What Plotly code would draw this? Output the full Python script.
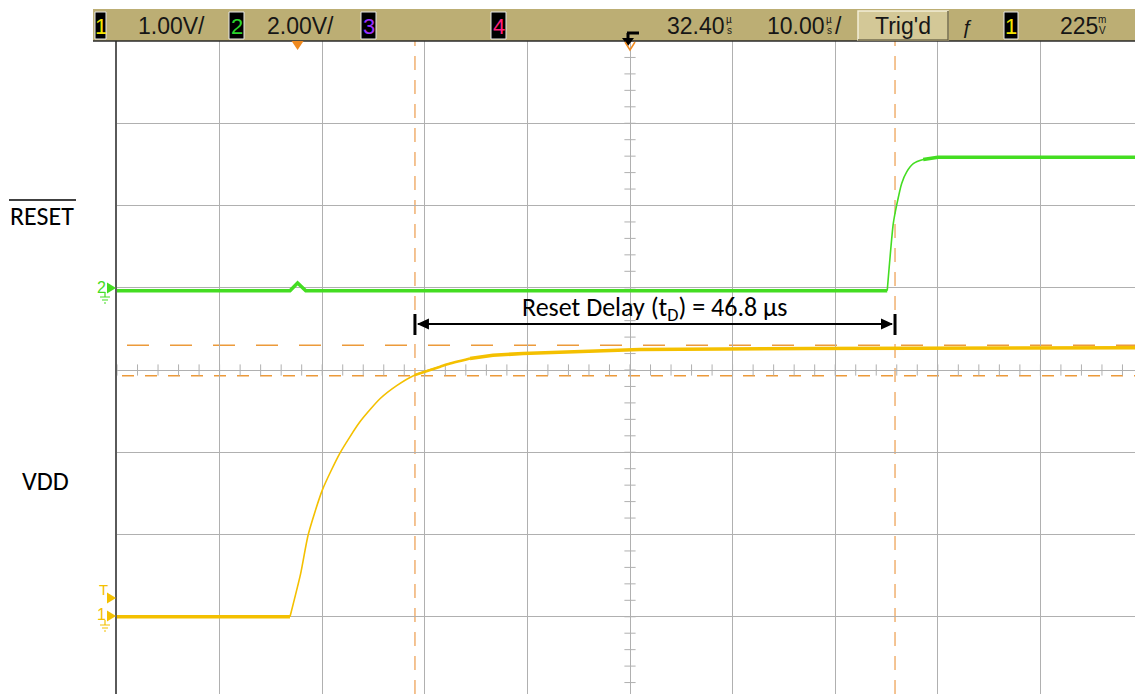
import plotly.graph_objects as go

# ---------------- data ----------------
# Time in microseconds (t = 0 at trigger), voltages in volts
vdd_t = [-17.6, -0.74, 0.30, 1.04, 2.41, 4.13, 6.08, 8.03, 9.66, 11.44, 13.9, 14.6,
         16.8, 19.04, 21.97, 26.84, 33.37, 50.0, 81.7]
vdd_v = [0.0, 0.0, 0.525, 1.00, 1.54, 1.99, 2.37, 2.65, 2.81, 2.94, 3.04, 3.07,
         3.14, 3.18, 3.20, 3.22, 3.25, 3.26, 3.27]

reset_t = [-17.6, -0.74, 0.0, 0.8, 57.47, 58.06, 58.39, 58.88, 59.37, 60.01, 60.98, 62.41, 81.7]
reset_v = [0.0, 0.0, 0.19, 0.0, 0.0, 1.63, 2.08, 2.61, 2.89, 3.09, 3.19, 3.246, 3.246]

cursor_t = [11.44, 58.23]          # vertical (time) cursors, us
cursor_v = [3.30, 2.93]            # horizontal (ch1) cursors, V

ch1_scale, ch1_center = 1.0, 3.0   # V/div, V at screen centre
ch2_scale, ch2_center = 2.0, -1.927
timebase, delay = 10.0, 32.4       # us/div, us at screen centre

bar_labels = ["1.00V/", "2.00V/", "32.40", "10.00", "Trig'd", "225"]
chan_labels = ["1", "2", "3", "4"]
trace_labels = ["RESET", "VDD"]
delay_label = "Reset Delay (t<sub>D</sub>) = 46.8 µs"

# ---------------- geometry ----------------
W, H = 1135, 694
L, T = 117, 41
PW, PH = W - L, H - T
DIVX, DIVY = 102.6, 82.25          # px per division

def px(x):
    return (x - L) / PW

def py(y):
    return (H - y) / PH

x0 = delay - 5 * timebase
x1 = x0 + PW / DIVX * timebase
y1_top = ch1_center + 4 * ch1_scale
y1_bot = y1_top - PH / DIVY * ch1_scale
y2_top = ch2_center + 4 * ch2_scale
y2_bot = y2_top - PH / DIVY * ch2_scale

GREEN = "#44dd22"
YELLOW = "#f4c000"
ORANGE = "#ec9a3a"
GRID = "#b0b0b0"
KHAKI = "#bcae74"
NARROW = "Liberation Sans, Arial, sans-serif"
CAL = "Carlito, Calibri, Lato, sans-serif"

fig = go.Figure()

# minor ticks on the centre graticule lines
nx = int(round((x1 - x0) / (timebase / 5))) + 1
fig.add_trace(go.Scatter(
    x=[x0 + k * timebase / 5 for k in range(nx)], y=[ch1_center] * nx,
    mode="markers", marker=dict(symbol="line-ns", size=8, line=dict(width=1, color=GRID)),
    hoverinfo="skip", showlegend=False))
ny = 41
fig.add_trace(go.Scatter(
    x=[delay] * ny, y=[-1.0 + k * ch1_scale / 5 for k in range(ny)],
    mode="markers", marker=dict(symbol="line-ew", size=8, line=dict(width=1, color=GRID)),
    hoverinfo="skip", showlegend=False))

def seg(tt, vv, a, b, width, color, axis, shape="linear"):
    fig.add_trace(go.Scatter(x=tt[a:b], y=vv[a:b], mode="lines", yaxis=axis,
                             line=dict(color=color, width=width, shape=shape, smoothing=0.6),
                             hoverinfo="skip", showlegend=False))

# VDD (channel 1)
seg(vdd_t, vdd_v, 0, 2, 3.5, YELLOW, "y")
seg(vdd_t, vdd_v, 1, 11, 1.6, YELLOW, "y", "spline")
seg(vdd_t, vdd_v, 9, 13, 2.6, YELLOW, "y", "spline")
seg(vdd_t, vdd_v, 12, len(vdd_t), 3.5, YELLOW, "y")

# RESET (channel 2)
seg(reset_t, reset_v, 0, 5, 3.5, GREEN, "y2")
seg(reset_t, reset_v, 4, 12, 1.6, GREEN, "y2", "spline")
seg(reset_t, reset_v, 10, len(reset_t), 3.5, GREEN, "y2")

shapes = []
# cursors
for t in cursor_t:
    shapes.append(dict(type="line", xref="x", yref="paper", x0=t, x1=t, y0=0, y1=1,
                       line=dict(color="#f0b070", width=1.5, dash="14px,10px"), layer="between"))
shapes.append(dict(type="line", xref="paper", yref="y", x0=px(127), x1=1, y0=cursor_v[0], y1=cursor_v[0],
                   line=dict(color=ORANGE, width=1.5, dash="22px,21px"), layer="between"))
shapes.append(dict(type="line", xref="paper", yref="y", x0=px(122), x1=1, y0=cursor_v[1], y1=cursor_v[1],
                   line=dict(color=ORANGE, width=1.5, dash="12px,11px"), layer="between"))

# delay arrow
ay = py(324)
dt = timebase / DIVX  # us per pixel
ta, tb = cursor_t
shapes.append(dict(type="line", xref="x", yref="paper", x0=ta + 3 * dt, x1=tb - 3 * dt, y0=ay, y1=ay,
                   line=dict(color="black", width=2)))
for t in cursor_t:
    shapes.append(dict(type="line", xref="x", yref="paper", x0=t, x1=t, y0=py(314), y1=py(335),
                       line=dict(color="black", width=3)))
shapes.append(dict(type="path", xref="x", yref="paper",
                   path=f"M{ta + 2 * dt},{ay} L{ta + 14 * dt},{py(318.5)} L{ta + 14 * dt},{py(329.5)} Z",
                   fillcolor="black", line=dict(width=0)))
shapes.append(dict(type="path", xref="x", yref="paper",
                   path=f"M{tb - 2 * dt},{ay} L{tb - 14 * dt},{py(318.5)} L{tb - 14 * dt},{py(329.5)} Z",
                   fillcolor="black", line=dict(width=0)))

# top status bar
shapes.append(dict(type="rect", xref="paper", yref="paper", x0=px(93), x1=1.0, y0=py(41), y1=py(9),
                   fillcolor=KHAKI, line=dict(width=0), layer="above"))
shapes.append(dict(type="line", xref="paper", yref="paper", x0=px(93), x1=1.0, y0=py(41), y1=py(41),
                   line=dict(color="#2a2a2a", width=1.5), layer="above"))
box_pos = [(95, 106), (229, 244), (361, 376), (491, 506), (1004, 1018)]
for (a, b) in box_pos:
    shapes.append(dict(type="rect", xref="paper", yref="paper", x0=px(a), x1=px(b), y0=py(39), y1=py(12),
                       fillcolor="black", line=dict(color="#e8e8e8", width=1), layer="above"))
# Trig'd box
shapes.append(dict(type="rect", xref="paper", yref="paper", x0=px(858), x1=px(948), y0=py(40), y1=py(11),
                   fillcolor="#d3c897", line=dict(color="#f4eed8", width=1.5), layer="above"))
shapes.append(dict(type="path", xref="paper", yref="paper",
                   path=f"M{px(858)},{py(40)} L{px(948)},{py(40)} L{px(948)},{py(11)}",
                   line=dict(color="#6e6440", width=1.5), layer="above"))
# trigger icon
shapes.append(dict(type="path", xref="paper", yref="paper",
                   path=f"M{px(627)},{py(33)} L{px(639)},{py(33)} M{px(628)},{py(33)} L{px(628)},{py(40)}",
                   line=dict(color="black", width=3), layer="above"))
shapes.append(dict(type="path", xref="paper", yref="paper",
                   path=f"M{px(622)},{py(38)} L{px(634)},{py(38)} L{px(628)},{py(46)} Z",
                   fillcolor="black", line=dict(width=0), layer="above"))
# trigger / delay markers
shapes.append(dict(type="path", xref="x", yref="paper",
                   path=f"M{0 - 6 * dt},{py(41)} L{0 + 6 * dt},{py(41)} L0,{py(50)} Z",
                   fillcolor="#f08a20", line=dict(width=0), layer="above"))
shapes.append(dict(type="path", xref="x", yref="paper",
                   path=f"M{delay - 5 * dt},{py(42)} L{delay},{py(50)} L{delay + 5 * dt},{py(42)}",
                   line=dict(color="#f08a20", width=1.5), layer="above"))

# channel reference markers at left edge
def tri(yc, color):
    shapes.append(dict(type="path", xref="paper", yref="paper",
                       path=f"M{px(107)},{py(yc - 5.5)} L{px(116)},{py(yc)} L{px(107)},{py(yc + 5.5)} Z",
                       fillcolor=color, line=dict(width=0)))

def gnd(yc, color):
    shapes.append(dict(type="path", xref="paper", yref="paper",
                       path=(f"M{px(105)},{py(yc + 4)} L{px(105)},{py(yc + 9)} "
                             f"M{px(100)},{py(yc + 9)} L{px(110)},{py(yc + 9)} "
                             f"M{px(102)},{py(yc + 12)} L{px(108)},{py(yc + 12)} "
                             f"M{px(104)},{py(yc + 15)} L{px(106)},{py(yc + 15)}"),
                       line=dict(color=color, width=1.2)))

tri(288, GREEN); gnd(288, GREEN)
tri(598, YELLOW)
tri(616, YELLOW); gnd(616, YELLOW)

# overline for RESET
shapes.append(dict(type="line", xref="paper", yref="paper", x0=px(9), x1=px(76), y0=py(200), y1=py(200),
                   line=dict(color="black", width=1.5)))

ann = []
def txt(x, y, s, size, color="#161616", family=NARROW, anchor="left"):
    ann.append(dict(xref="paper", yref="paper", x=px(x), y=py(y), text=s, showarrow=False,
                    xanchor=anchor, yanchor="middle", font=dict(family=family, size=size, color=color),
                    borderpad=0))

txt(137, 26, bar_labels[0], 23)
txt(266, 26, bar_labels[1], 23)
txt(666, 26, bar_labels[2], 23)
txt(766, 26, bar_labels[3], 23)
txt(903, 26, bar_labels[4], 23, anchor="center")
txt(1059, 26, bar_labels[5], 23)
# stacked unit glyphs
for xs, top, bot in [(729, "µ", "s"), (829, "µ", "s"), (1102, "m", "V")]:
    txt(xs, 19.5, top, 10, anchor="center")
    txt(xs, 30, bot, 10, anchor="center")
txt(834, 26, "/", 23)
txt(967, 27, "ƒ", 20, anchor="center")
box_colors = ["#f4e400", "#2bd42b", "#9b30ff", "#ff1f7a", "#f4e400"]
box_text = chan_labels + ["1"]
for (a, b), c, s in zip(box_pos, box_colors, box_text):
    txt((a + b) / 2, 26, s, 22, color=c, anchor="center")

# channel numbers at left
txt(101, 287, "2", 16, color=GREEN, anchor="center")
txt(103, 589, "T", 15, color=YELLOW, anchor="center")
txt(101, 614, "1", 16, color=YELLOW, anchor="center")

# trace labels
txt(42, 216, trace_labels[0], 26, color="black", family=CAL, anchor="center")
txt(45, 481, trace_labels[1], 26, color="black", family=CAL, anchor="center")

# delay text
ann.append(dict(xref="x", yref="paper", x=(ta + tb) / 2, y=py(308), text=delay_label, showarrow=False,
                xanchor="center", yanchor="middle", font=dict(family=CAL, size=26, color="black")))

fig.update_layout(
    width=W, height=H,
    margin=dict(l=L, r=0, t=T, b=0),
    paper_bgcolor="white", plot_bgcolor="white",
    showlegend=False,
    xaxis=dict(range=[x0, x1], showgrid=True, gridcolor=GRID, gridwidth=1,
               tick0=x0, dtick=timebase, showticklabels=False, ticks="", zeroline=False,
               showline=False, fixedrange=True),
    yaxis=dict(range=[y1_bot, y1_top], showgrid=True, gridcolor=GRID, gridwidth=1,
               tick0=0, dtick=ch1_scale, showticklabels=False, ticks="", zeroline=False,
               showline=True, linecolor="#5a5a5a", linewidth=2, fixedrange=True),
    yaxis2=dict(range=[y2_bot, y2_top], overlaying="y", showgrid=False, showticklabels=False,
                ticks="", zeroline=False, showline=False, fixedrange=True),
    shapes=shapes,
    annotations=ann,
)

fig.write_html("out.html", config={"displayModeBar": False, "staticPlot": True},
               post_script="document.body.style.margin='0';document.body.style.overflow='hidden';")
